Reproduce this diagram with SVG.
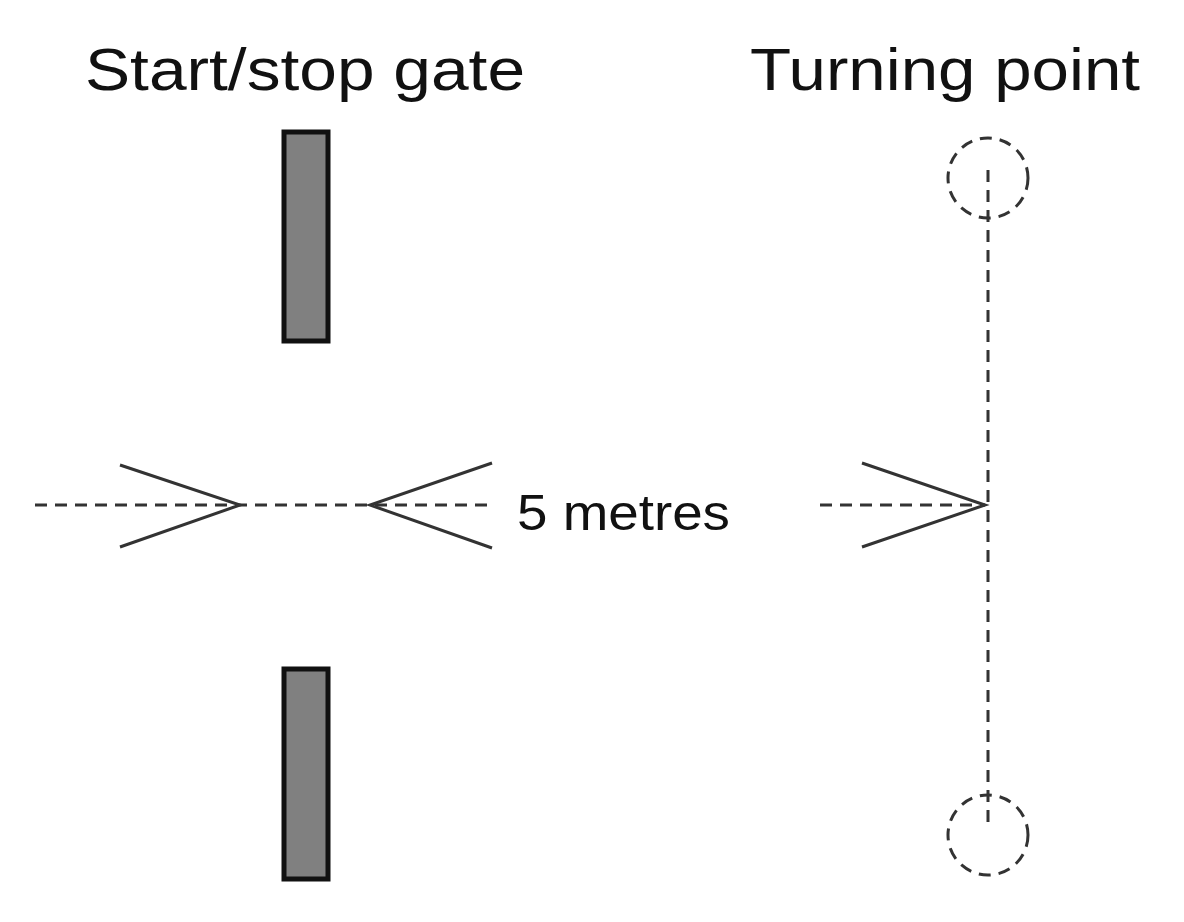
<svg xmlns="http://www.w3.org/2000/svg" width="1184" height="922" viewBox="0 0 1184 922">
<style>
.t{font-family:"Liberation Sans",Arial,sans-serif;fill:#111}
.g{fill:#808080;stroke:#111;stroke-width:5}
.d{stroke:#333;stroke-width:3;stroke-dasharray:12 8;fill:none}
.c{stroke:#333;stroke-width:3;fill:none}
</style>
<rect width="1184" height="922" fill="#fff"/>
<text class="t" x="85" y="90" font-size="60" textLength="440" lengthAdjust="spacingAndGlyphs">Start/stop gate</text>
<text class="t" x="750" y="90" font-size="60" textLength="390" lengthAdjust="spacingAndGlyphs">Turning point</text>
<g id="gate-top"><rect class="g" x="284" y="132" width="44" height="209"/></g>
<g id="gate-bottom"><rect class="g" x="284" y="669" width="44" height="210"/></g>
<g id="turn-top"><circle class="d" cx="988" cy="178" r="40"/></g>
<g id="turn-bottom"><circle class="d" cx="988" cy="835" r="40"/></g>
<g id="connectors">
<path class="d" d="M35 505H495M820 505H985M988 170V830"/>
<path class="c" d="M120 465L240 505L120 547M492 463L370 505L492 548M862 463L985 505L862 547"/>
</g>
<text class="t" x="517" y="530" font-size="50" textLength="213" lengthAdjust="spacingAndGlyphs">5 metres</text>
</svg>
